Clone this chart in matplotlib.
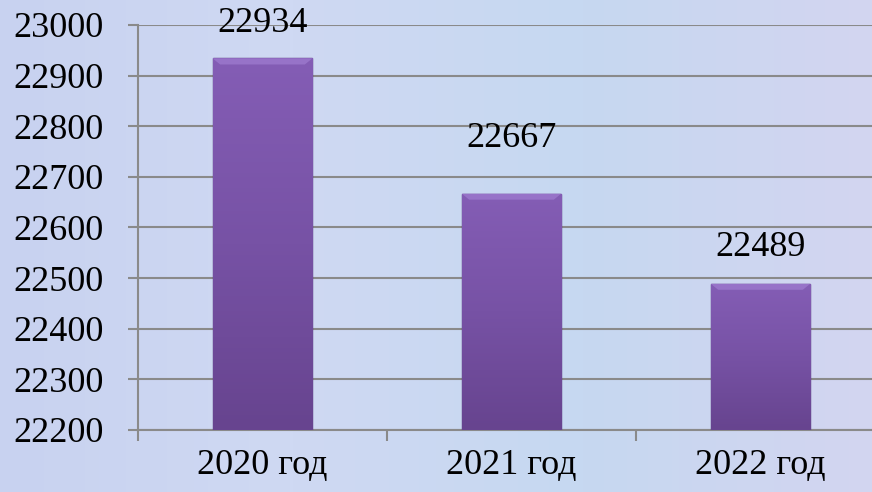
import numpy as np
import matplotlib.pyplot as plt
from matplotlib.colors import LinearSegmentedColormap

years = ['2020 год', '2021 год', '2022 год']
values = [22934, 22667, 22489]
y_ticks = [22200, 22300, 22400, 22500, 22600, 22700, 22800, 22900, 23000]

plt.rcParams['font.family'] = ['Liberation Serif', 'DejaVu Serif']

fig = plt.figure(figsize=(8.72, 4.92), dpi=100)
fig.patch.set_facecolor('#c9d6f1')

# light pastel backdrop over the whole figure
bg = fig.add_axes([0, 0, 1, 1], zorder=-10)
grad = np.linspace(0, 1, 256).reshape(1, -1)
bg_cmap = LinearSegmentedColormap.from_list('bg', ['#c8d2f0', '#cfd9f3', '#c6d8f1', '#d3d5f0'])
bg.imshow(grad, aspect='auto', cmap=bg_cmap, extent=[0, 1, 0, 1])
bg.axis('off')

# axes: left at x=138, top 25, bottom 430, right edge beyond the picture (885)
ax = fig.add_axes([138 / 872, 1 - 430 / 492, (885 - 138) / 872, (430 - 25) / 492])
ax.patch.set_alpha(0)

x = np.arange(len(years))
bars = ax.bar(x, [v - y_ticks[0] for v in values], bottom=y_ticks[0], width=0.4,
              color='#7d57ad', edgecolor='#4f3476', linewidth=1.0, zorder=3)

# vertical gradient inside each bar
bar_cmap = LinearSegmentedColormap.from_list('bar', ['#67448f', '#7752a5', '#845db5'])
for b in bars:
    x0, y0 = b.get_x(), b.get_y()
    w, h = b.get_width(), b.get_height()
    im = ax.imshow(np.linspace(0, 1, 100).reshape(-1, 1), cmap=bar_cmap, origin='lower',
                   extent=[x0, x0 + w, y0, y0 + h], aspect='auto', zorder=3)
    im.set_clip_path(b)
    # light bevel along the top
    ax.fill([x0, x0 + w, x0 + w - 0.03, x0 + 0.03], [y0 + h, y0 + h, y0 + h - 12, y0 + h - 12],
            color='#a583d6', alpha=0.6, zorder=4, linewidth=0)

label_offsets = [25, 40, 26]
for xi, v, off in zip(x, values, label_offsets):
    ax.annotate(str(v), (xi, v), xytext=(0, off), textcoords='offset points',
                ha='center', va='center', fontsize=26, color='black', zorder=5)

ax.set_xlim(-0.5, 2.5)
ax.set_ylim(y_ticks[0], y_ticks[-1])
ax.set_yticks(y_ticks)
ax.set_yticklabels([str(t) for t in y_ticks], fontsize=26)
ax.set_xticks(x)
ax.set_xticklabels(years, fontsize=26)
ax.set_xticks([-0.5, 0.5, 1.5, 2.5], minor=True)
ax.tick_params(axis='x', which='major', length=0, pad=14)
ax.tick_params(axis='x', which='minor', length=8, width=1.5, color='#8a8a8a', direction='out')
ax.tick_params(axis='y', length=7, width=1.5, color='#8a8a8a', pad=18)

ax.grid(axis='y', color='#8a8a8a', linewidth=1.5, zorder=1)
for s in ['top', 'right']:
    ax.spines[s].set_visible(False)
for s in ['left', 'bottom']:
    ax.spines[s].set_color('#8a8a8a')
    ax.spines[s].set_linewidth(1.5)

fig.savefig('out.png', dpi=100, facecolor=fig.get_facecolor())
